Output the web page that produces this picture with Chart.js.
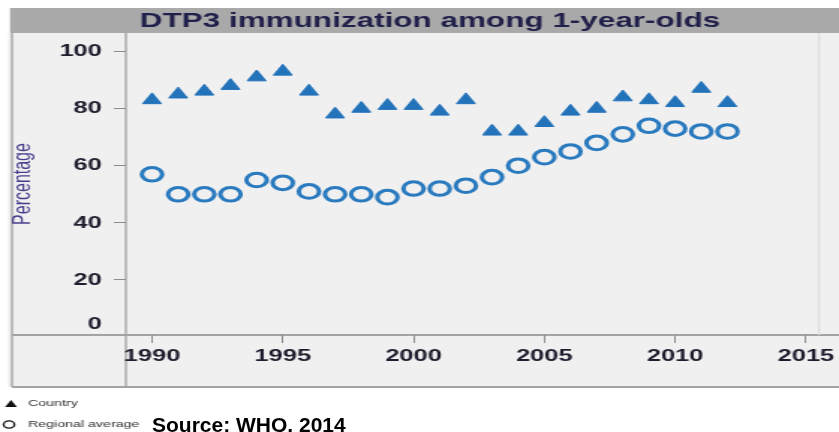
<!DOCTYPE html>
<html>
<head>
<meta charset="utf-8">
<title>DTP3 immunization among 1-year-olds</title>
<script src="https://cdn.jsdelivr.net/npm/chart.js@4.4.1/dist/chart.umd.min.js"></script>
<style>
  body { margin: 0; background: #fff; overflow: hidden; }
  #wrap { position: relative; width: 839px; height: 432px; }
  #myChart { position: absolute; left: 0; top: 0; }
  #source { position: absolute; left: 152px; top: 414px; font: bold 21px "Liberation Sans", Arial, sans-serif;
            line-height: 21px; color: #000; white-space: nowrap; }
</style>
</head>
<body>
<div id="wrap">
  <!-- the source picture is stretched sideways, so the canvas is too -->
  <canvas id="myChart" width="560" height="432" style="width:839px;height:432px"></canvas>
  <div id="source">Source: WHO, 2014</div>
</div>
<script>
const chartTitle = 'DTP3 immunization among 1-year-olds'
const yAxisTitle = 'Percentage'
const years = [1990, 1991, 1992, 1993, 1994, 1995, 1996, 1997, 1998, 1999, 2000, 2001,
               2002, 2003, 2004, 2005, 2006, 2007, 2008, 2009, 2010, 2011, 2012]
const countryValues = [83, 85, 86, 88, 91, 93, 86, 78, 80, 81, 81, 79,
                       83, 72, 72, 75, 79, 80, 84, 83, 82, 87, 82]
const regionalValues = [57, 50, 50, 50, 55, 54, 51, 50, 50, 49, 52, 52,
                        53, 56, 60, 63, 65, 68, 71, 74, 73, 72, 72]
const seriesLabels = ['Country', 'Regional average']

const S = 839 / 560 // sideways stretch of the canvas
const FONT = '"Liberation Sans", Arial, sans-serif'
const FRAME_BOTTOM = 387

function toPoints(values) {
  return years.map((yr, i) => ({ x: yr, y: values[i] }))
}

const framePlugin = {
  id: 'frame',
  beforeDraw(chart) {
    const ctx = chart.ctx
    const area = chart.chartArea
    const w = chart.width
    ctx.save()
    ctx.fillStyle = '#ffffff'
    ctx.fillRect(0, 0, w, chart.height)
    ctx.fillStyle = '#f0f0f0'
    ctx.fillRect(8 / S, area.top, w, FRAME_BOTTOM - area.top)
    ctx.fillStyle = '#a9a9a9'
    ctx.fillRect(10 / S, 8, w, area.top - 8)

    ctx.strokeStyle = '#a3a3a3'
    // horizontal lines
    ctx.lineWidth = 2
    ctx.beginPath()
    ctx.moveTo(12 / S, area.bottom); ctx.lineTo(w, area.bottom)
    ctx.moveTo(12 / S, FRAME_BOTTOM); ctx.lineTo(w, FRAME_BOTTOM)
    ctx.stroke()
    // vertical lines
    ctx.lineWidth = 2 / S
    ctx.beginPath()
    ctx.moveTo(12 / S, area.top); ctx.lineTo(12 / S, FRAME_BOTTOM)
    ctx.moveTo(area.left, area.top); ctx.lineTo(area.left, FRAME_BOTTOM)
    ctx.stroke()
    ctx.strokeStyle = '#dedede'
    ctx.beginPath()
    ctx.moveTo(area.right, area.top); ctx.lineTo(area.right, area.bottom)
    ctx.stroke()

    // title in the grey band
    ctx.fillStyle = '#20204a'
    ctx.font = 'bold 21px ' + FONT
    ctx.textAlign = 'center'
    ctx.textBaseline = 'middle'
    ctx.fillText(chartTitle, 430 / S, 21)
    ctx.restore()
  },
  afterDraw(chart) {
    const ctx = chart.ctx
    const area = chart.chartArea
    const yScale = chart.scales.y
    ctx.save()
    // the 0 label sits above the axis line in the original
    ctx.fillStyle = '#1d1d2d'
    ctx.font = 'bold 17px ' + FONT
    ctx.textAlign = 'right'
    ctx.textBaseline = 'middle'
    ctx.fillText('0', area.left - 16, yScale.getPixelForValue(0) - 13)

    // small stacked legend under the frame
    chart.data.datasets.forEach((ds, i) => {
      const y = 403.5 + i * 21
      ctx.fillStyle = '#111'
      ctx.strokeStyle = '#111'
      if (ds.pointStyle === 'triangle') {
        ctx.beginPath()
        ctx.moveTo(11 / S, y - 3.5)
        ctx.lineTo(11 / S + 4, y + 3.5)
        ctx.lineTo(11 / S - 4, y + 3.5)
        ctx.closePath()
        ctx.fill()
      } else {
        ctx.lineWidth = 1.3
        ctx.beginPath()
        ctx.arc(9 / S, y, 3.6, 0, Math.PI * 2)
        ctx.stroke()
      }
      ctx.fillStyle = '#333'
      ctx.font = '9.5px ' + FONT
      ctx.textAlign = 'left'
      ctx.textBaseline = 'middle'
      ctx.fillText(ds.label, 28 / S, y)
    })
    ctx.restore()
  }
}

let ctx = document.getElementById('myChart').getContext('2d')
let chart = new Chart(ctx, {
  type: 'scatter',
  data: {
    datasets: [{
      label: seriesLabels[0],
      data: toPoints(countryValues),
      pointStyle: 'triangle',
      pointRadius: 7.2,
      pointBorderWidth: 1,
      backgroundColor: '#2373bb',
      borderColor: '#2373bb'
    },
    {
      label: seriesLabels[1],
      data: toPoints(regionalValues),
      pointStyle: 'circle',
      pointRadius: 6.8,
      pointBorderWidth: 3,
      backgroundColor: 'rgba(0,0,0,0)',
      borderColor: '#2a7abf'
    }]
  },
  options: {
    responsive: false,
    animation: false,
    devicePixelRatio: 1,
    layout: { padding: { top: 33, right: 6, left: 0, bottom: 0 } },
    plugins: {
      legend: { display: false },
      title: { display: false },
      tooltip: { enabled: false }
    },
    scales: {
      x: {
        type: 'linear',
        min: 1989,
        max: 2015.5,
        afterFit: scale => { scale.height = 432 - 335 },
        border: { display: false },
        grid: { drawOnChartArea: false, drawTicks: true, tickLength: 8, color: '#8c8c8c' },
        ticks: {
          stepSize: 5,
          includeBounds: false,
          maxRotation: 0,
          padding: 3,
          color: '#1d1d2d',
          font: { family: FONT, size: 17, weight: 'bold' },
          callback: v => String(v)
        }
      },
      y: {
        min: 0.7,
        max: 106.5,
        afterFit: scale => { scale.width = 84 },
        border: { display: false },
        grid: { drawOnChartArea: false, drawTicks: true, tickLength: 8, color: '#8c8c8c' },
        title: {
          display: true,
          text: yAxisTitle,
          color: '#463e8c',
          font: { family: FONT, size: 16 },
          padding: { top: 6, bottom: 0 }
        },
        ticks: {
          stepSize: 20,
          includeBounds: false,
          padding: 8,
          color: '#1d1d2d',
          font: { family: FONT, size: 17, weight: 'bold' }
        }
      }
    }
  },
  plugins: [framePlugin]
})
</script>
</body>
</html>
